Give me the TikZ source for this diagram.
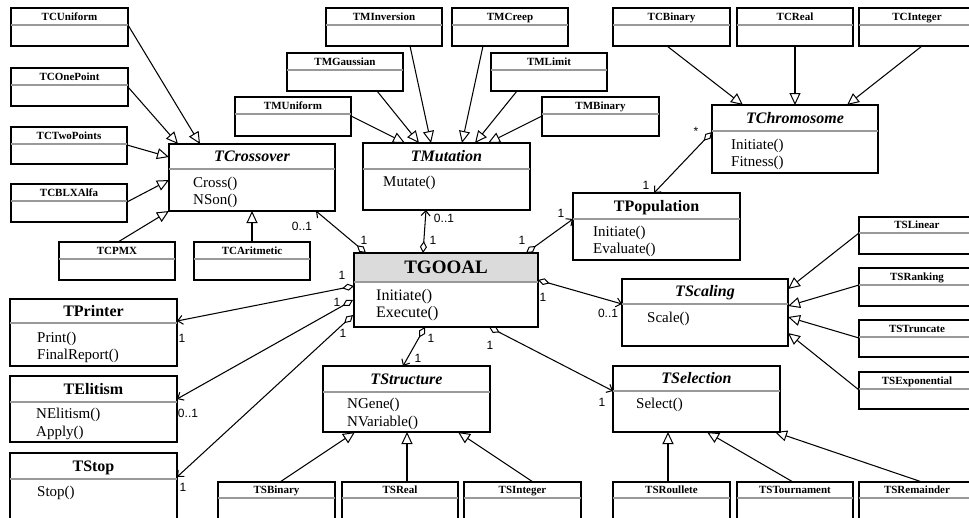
\documentclass[tikz,border=0pt]{standalone}
\usepackage{fontspec}
\setmainfont{Liberation Serif}
\newfontfamily\lsans{Liberation Sans}
\usetikzlibrary{arrows.meta,calc}
\tikzset{
 clsbox/.style={draw, line width=1.3pt, inner sep=0pt, outer sep=0pt, fill=white},
 sepline/.style={draw=black!90, line width=0.8pt, double=black!40, double distance=1.2pt},
 smalltitle/.style={font=\fontsize{11}{12}\selectfont\bfseries, inner sep=0pt, text height=7.3pt, text depth=0pt},
 bigtitle/.style={font=\fontsize{16}{18}\selectfont\bfseries, inner sep=0pt, text height=10.6pt, text depth=0pt},
 abstitle/.style={font=\fontsize{16}{18}\selectfont\bfseries\itshape, inner sep=0pt, text height=10.6pt, text depth=0pt},
 maintitle/.style={font=\fontsize{19}{21}\selectfont\bfseries, inner sep=0pt, text height=12.6pt, text depth=0pt},
 meth/.style={font=\fontsize{15}{17}\selectfont, inner sep=0pt, anchor=base west},
 lbl/.style={font=\lsans\fontsize{12}{12}\selectfont, inner sep=0pt},
 inh/.style={-{Triangle[open,length=12pt,width=11pt,line width=1pt]}, line width=1.05pt},
 agg/.style={{Diamond[open,length=12pt,width=7pt,line width=1pt]}-{Straight Barb[length=5pt,width=9pt]}, line width=1.05pt},
}
\newcommand\umlcls[8]{%
 \node[clsbox, anchor=north west, minimum width={(#4-#2)*1pt}, minimum height={(#5-#3)*1pt}] (#1) at (#2,#3) {};
 \draw[sepline] ($(#1.north west)+(0,#6)$) -- ($(#1.north east)+(0,#6)$);
 \node[#7] (#1-title) at ($(#1.north)+(0,#6/2)$) {#8};
}
\begin{document}
\begin{tikzpicture}[x=1pt,y=-1pt]
\useasboundingbox (0,0) rectangle (969,517);
\clip (0,0) rectangle (969,517);
% ---- crossover family
\umlcls{tcuni}{11}{8}{128}{46}{17}{smalltitle}{TCUniform}
\umlcls{tcone}{11}{68}{128}{106}{17}{smalltitle}{TCOnePoint}
\umlcls{tctwo}{11}{127}{127}{164}{17}{smalltitle}{TCTwoPoints}
\umlcls{tcblx}{11}{184}{127}{222}{17}{smalltitle}{TCBLXAlfa}
\umlcls{tcpmx}{59}{242}{175}{280}{17}{smalltitle}{TCPMX}
\umlcls{tcari}{194}{242}{310}{280}{17}{smalltitle}{TCAritmetic}
\umlcls{tcross}{169}{144}{335}{211}{25}{abstitle}{TCrossover}
% ---- mutation family
\umlcls{tminv}{326}{8}{442}{46}{17}{smalltitle}{TMInversion}
\umlcls{tmcreep}{452}{8}{568}{46}{17}{smalltitle}{TMCreep}
\umlcls{tmgau}{287}{53}{403}{91}{17}{smalltitle}{TMGaussian}
\umlcls{tmlim}{491}{53}{607}{91}{17}{smalltitle}{TMLimit}
\umlcls{tmuni}{235}{97}{351}{136}{17}{smalltitle}{TMUniform}
\umlcls{tmbin}{542}{97}{659}{136}{17}{smalltitle}{TMBinary}
\umlcls{tmut}{363}{143}{530}{210}{26}{abstitle}{TMutation}
% ---- chromosome family
\umlcls{tcbin}{613}{8}{730}{46}{17}{smalltitle}{TCBinary}
\umlcls{tcreal}{737}{8}{853}{46}{17}{smalltitle}{TCReal}
\umlcls{tcint}{859}{8}{975}{46}{17}{smalltitle}{TCInteger}
\umlcls{tchrom}{712}{105}{878}{173}{26}{abstitle}{TChromosome}
\umlcls{tpop}{573}{193}{740}{260}{26}{bigtitle}{TPopulation}
% ---- scaling family
\umlcls{tslin}{859}{217}{975}{254}{16}{smalltitle}{TSLinear}
\umlcls{tsrank}{859}{268}{975}{306}{17}{smalltitle}{TSRanking}
\umlcls{tstrunc}{859}{320}{975}{357}{17}{smalltitle}{TSTruncate}
\umlcls{tsexp}{859}{372}{975}{409}{17}{smalltitle}{TSExponential}
\umlcls{tscal}{622}{279}{788}{346}{25}{abstitle}{TScaling}
% ---- selection family
\umlcls{tsel}{613}{366}{780}{432}{25}{abstitle}{TSelection}
\umlcls{tsroul}{613}{482}{730}{530}{16}{smalltitle}{TSRoullete}
\umlcls{tstour}{737}{482}{853}{530}{16}{smalltitle}{TSTournament}
\umlcls{tsrem}{859}{482}{975}{530}{16}{smalltitle}{TSRemainder}
% ---- structure family
\umlcls{tstruct}{323}{366}{490}{432}{26}{abstitle}{TStructure}
\umlcls{tsbin}{218}{482}{335}{530}{16}{smalltitle}{TSBinary}
\umlcls{tsreal}{342}{482}{458}{530}{16}{smalltitle}{TSReal}
\umlcls{tsint}{464}{482}{581}{530}{16}{smalltitle}{TSInteger}
% ---- left column
\umlcls{tprint}{10}{299}{177}{366}{24}{bigtitle}{TPrinter}
\umlcls{telit}{10}{376}{177}{442}{26}{bigtitle}{TElitism}
\umlcls{tstop}{10}{453}{177}{530}{26}{bigtitle}{TStop}
% ---- TGOOAL
\node[clsbox, anchor=north west, minimum width=184pt, minimum height=74pt] (tgooal) at (354,253) {};
\fill[black!14] (tgooal.north west) rectangle ($(tgooal.north east)+(0,29)$);
\draw[line width=1.3pt] (tgooal.north west) rectangle (tgooal.south east);
\draw[sepline] ($(tgooal.north west)+(0,29)$) -- ($(tgooal.north east)+(0,29)$);
\node[maintitle] (tgooal-title) at ($(tgooal.north)+(0,14.5)$) {TGOOAL};
% ---- methods
\node[meth] (tcross-m1) at ($(tcross.north west)+(24,43)$) {Cross()};
\node[meth] (tcross-m2) at ($(tcross.north west)+(24,60)$) {NSon()};
\node[meth] (tmut-m1) at ($(tmut.north west)+(20,43)$) {Mutate()};
\node[meth] (tchrom-m1) at ($(tchrom.north west)+(19,44)$) {Initiate()};
\node[meth] (tchrom-m2) at ($(tchrom.north west)+(19,61)$) {Fitness()};
\node[meth] (tpop-m1) at ($(tpop.north west)+(20,43)$) {Initiate()};
\node[meth] (tpop-m2) at ($(tpop.north west)+(20,60)$) {Evaluate()};
\node[meth, font=\fontsize{16}{18}\selectfont] (tgooal-m1) at ($(tgooal.north west)+(22,47)$) {Initiate()};
\node[meth, font=\fontsize{16}{18}\selectfont] (tgooal-m2) at ($(tgooal.north west)+(22,64)$) {Execute()};
\node[meth] (tscal-m1) at ($(tscal.north west)+(25,43)$) {Scale()};
\node[meth] (tsel-m1) at ($(tsel.north west)+(23,42)$) {Select()};
\node[meth] (tstruct-m1) at ($(tstruct.north west)+(24,42)$) {NGene()};
\node[meth] (tstruct-m2) at ($(tstruct.north west)+(24,60)$) {NVariable()};
\node[meth] (tprint-m1) at ($(tprint.north west)+(27,43)$) {Print()};
\node[meth] (tprint-m2) at ($(tprint.north west)+(27,60)$) {FinalReport()};
\node[meth] (telit-m1) at ($(telit.north west)+(26,42)$) {NElitism()};
\node[meth] (telit-m2) at ($(telit.north west)+(26,60)$) {Apply()};
\node[meth] (tstop-m1) at ($(tstop.north west)+(27,43)$) {Stop()};
% ---- inheritance
\draw[inh] ($(tcuni.north east)+(0,17)$) -- ($(tcross.north west)+(31,0)$);
\draw[inh] ($(tcone.north east)+(0,19)$) -- ($(tcross.north west)+(9,0)$);
\draw[inh] ($(tctwo.north east)+(0,18)$) -- ($(tcross.north west)+(0,13)$);
\draw[inh] ($(tcblx.north east)+(0,18)$) -- ($(tcross.north west)+(0,36)$);
\draw[inh] ($(tcpmx.north west)+(59,0)$) -- (tcross.south west);
\draw[inh] ($(tcari.north west)+(58,0)$) -- ($(tcross.south west)+(83,0)$);
\draw[inh] ($(tmuni.north east)+(0,19)$) -- ($(tmut.north west)+(42,0)$);
\draw[inh] ($(tmgau.south west)+(90,0)$) -- ($(tmut.north west)+(56,0)$);
\draw[inh] ($(tminv.south west)+(84,0)$) -- ($(tmut.north west)+(68,0)$);
\draw[inh] ($(tmcreep.south west)+(31,0)$) -- ($(tmut.north west)+(99,0)$);
\draw[inh] ($(tmlim.south west)+(26,0)$) -- ($(tmut.north west)+(112,0)$);
\draw[inh] ($(tmbin.north west)+(0,19)$) -- ($(tmut.north west)+(125,0)$);
\draw[inh] ($(tcbin.south west)+(54,0)$) -- ($(tchrom.north west)+(31,0)$);
\draw[inh] ($(tcreal.south west)+(58,0)$) -- ($(tchrom.north west)+(83,0)$);
\draw[inh] ($(tcint.south west)+(63,0)$) -- ($(tchrom.north west)+(135,0)$);
\draw[inh] ($(tslin.north west)+(0,16)$) -- ($(tscal.north east)+(0,10)$);
\draw[inh] ($(tsrank.north west)+(0,17)$) -- ($(tscal.north east)+(0,27)$);
\draw[inh] ($(tstrunc.north west)+(0,18)$) -- ($(tscal.north east)+(0,38)$);
\draw[inh] ($(tsexp.north west)+(0,18)$) -- ($(tscal.north east)+(0,54)$);
\draw[inh] ($(tsbin.north west)+(62,0)$) -- ($(tstruct.south west)+(32,0)$);
\draw[inh] ($(tsreal.north west)+(65,0)$) -- ($(tstruct.south west)+(84,0)$);
\draw[inh] ($(tsint.north west)+(69,0)$) -- ($(tstruct.south west)+(135,0)$);
\draw[inh] ($(tsroul.north west)+(55,0)$) -- ($(tsel.south west)+(55,0)$);
\draw[inh] ($(tstour.north west)+(56,0)$) -- ($(tsel.south west)+(94,0)$);
\draw[inh] ($(tsrem.north west)+(63,0)$) -- ($(tsel.south west)+(162,0)$);
% ---- aggregations
\draw[agg] ($(tgooal.north west)+(12,0)$) -- ($(tcross.south east)+(-19,0)$);
\draw[agg] ($(tgooal.north west)+(69,0)$) -- ($(tmut.south west)+(63,0)$);
\draw[agg] ($(tgooal.north east)+(-12,0)$) -- ($(tpop.north west)+(0,26)$);
\draw[agg] ($(tgooal.north west)+(0,33)$) -- ($(tprint.north east)+(0,22)$);
\draw[agg] ($(tgooal.north west)+(-1,47)$) -- ($(telit.north east)+(0,23)$);
\draw[agg] ($(tgooal.north west)+(-1,62)$) -- ($(tstop.north east)+(0,24)$);
\draw[agg] ($(tgooal.north east)+(0,27)$) -- ($(tscal.north west)+(0,25)$);
\draw[agg] ($(tgooal.south west)+(71,0)$) -- ($(tstruct.north west)+(80,0)$);
\draw[agg] ($(tgooal.south west)+(135,0)$) -- ($(tsel.north west)+(0,25)$);
\draw[agg] ($(tchrom.north west)+(0,27)$) -- ($(tpop.north west)+(81,0)$);
% ---- multiplicities
\node[lbl] (m1) at (302,226) {0..1};
\node[lbl] (m2) at (364,240) {1};
\node[lbl] (m3) at (444,218) {0..1};
\node[lbl] (m4) at (433,240) {1};
\node[lbl] (m5) at (561,213) {1};
\node[lbl] (m6) at (522,240) {1};
\node[lbl] (m7) at (696,131) {*};
\node[lbl] (m8) at (646,185) {1};
\node[lbl] (m9) at (342,275) {1};
\node[lbl] (m10) at (182,338) {1};
\node[lbl] (m11) at (337,302) {1};
\node[lbl] (m12) at (188,413) {0..1};
\node[lbl] (m13) at (343,333) {1};
\node[lbl] (m14) at (183,487) {1};
\node[lbl] (m15) at (543,297) {1};
\node[lbl] (m16) at (608,313) {0..1};
\node[lbl] (m17) at (431,338) {1};
\node[lbl] (m18) at (418,358) {1};
\node[lbl] (m19) at (490,345) {1};
\node[lbl] (m20) at (602,402) {1};
\end{tikzpicture}
\end{document}
